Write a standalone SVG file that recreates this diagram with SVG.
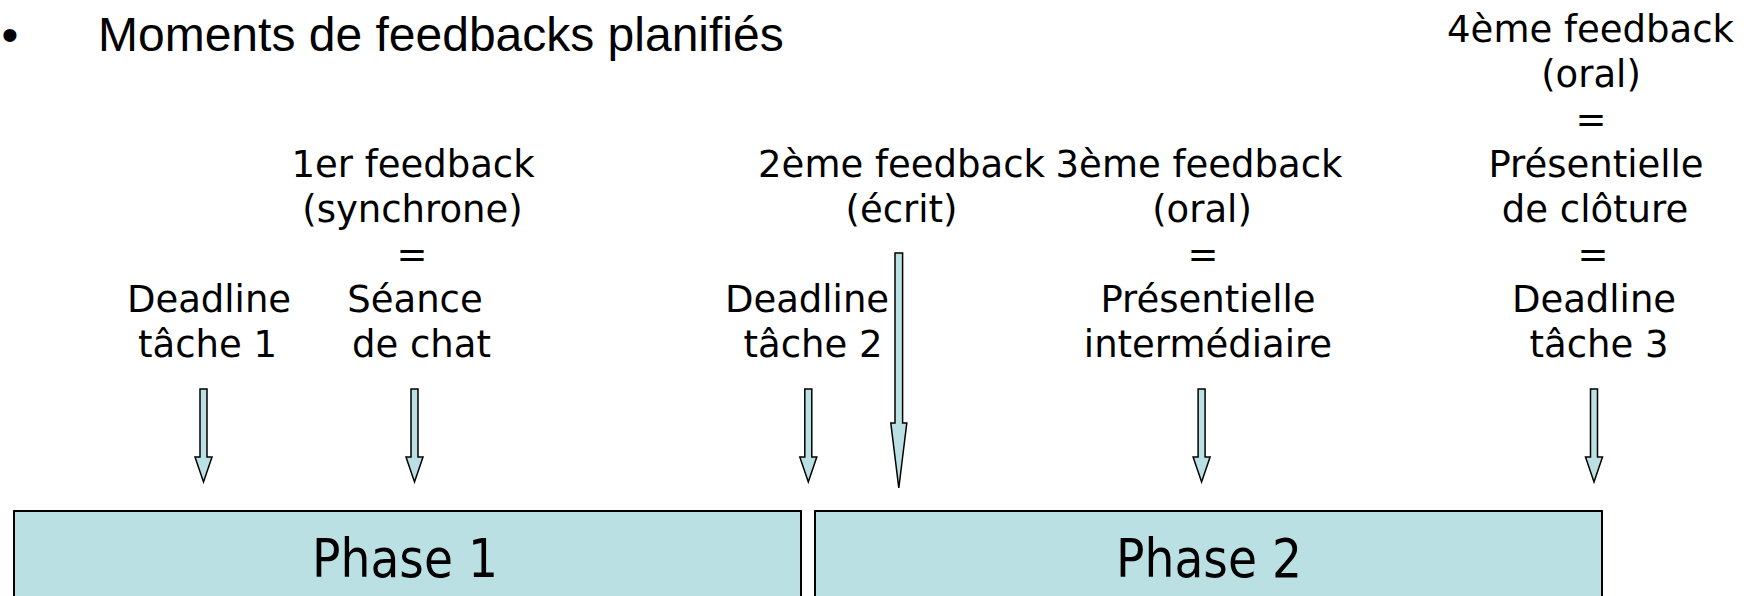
<svg xmlns="http://www.w3.org/2000/svg" xmlns:xlink="http://www.w3.org/1999/xlink" width="1751" height="596" viewBox="0 0 1751 596">
<style>
.t{font-family:"DejaVu Sans","Verdana",sans-serif;font-size:37px;fill:#000;text-anchor:middle}
.title{font-family:"Liberation Sans",Arial,sans-serif;font-size:48px;fill:#000}
.ph{font-family:"DejaVu Sans","Verdana",sans-serif;font-size:54px;fill:#000;text-anchor:middle}
.box{fill:#bbe0e3;stroke:#000;stroke-width:2}
.arr{fill:#bbe0e3;stroke:#000;stroke-width:1.5;stroke-linejoin:miter}
</style>
<defs>
<path id="sa" class="arr" d="M-3.5,389 H3.5 V457 H8.5 L0,482 L-8.5,457 H-3.5 Z"/>
</defs>
<rect width="1751" height="596" fill="#fff"/>
<g id="title">
<text class="title" x="10" y="50.5" text-anchor="middle">•</text>
<text class="title" x="98" y="50.5">Moments de feedbacks planifiés</text>
</g>
<g id="phase1">
<rect class="box" x="14" y="511" width="787" height="110"/>
<text class="ph" x="405" y="577" textLength="186" lengthAdjust="spacingAndGlyphs">Phase 1</text>
</g>
<g id="phase2">
<rect class="box" x="815" y="511" width="787" height="110"/>
<text class="ph" x="1209" y="577" textLength="186" lengthAdjust="spacingAndGlyphs">Phase 2</text>
</g>
<g id="deadline1">
<text class="t" x="209" y="311.5">Deadline</text>
<text class="t" x="207.5" y="356.5">tâche 1</text>
</g>
<g id="feedback1">
<text class="t" x="413" y="176.5">1er feedback</text>
<text class="t" x="412.5" y="221.5">(synchrone)</text>
<text class="t" x="412" y="266.5">=</text>
<text class="t" x="415" y="311.5">Séance</text>
<text class="t" x="421.5" y="356.5">de chat</text>
</g>
<g id="deadline2">
<text class="t" x="807" y="311.5">Deadline</text>
<text class="t" x="813" y="356.5">tâche 2</text>
</g>
<g id="feedback2">
<text class="t" x="901.5" y="176.5">2ème feedback</text>
<text class="t" x="901.5" y="221.5">(écrit)</text>
</g>
<g id="feedback3">
<text class="t" x="1199" y="176.5">3ème feedback</text>
<text class="t" x="1202" y="221.5">(oral)</text>
<text class="t" x="1203" y="266.5">=</text>
<text class="t" x="1208" y="311.5">Présentielle</text>
<text class="t" x="1208" y="356.5">intermédiaire</text>
</g>
<g id="feedback4">
<text class="t" x="1590.5" y="41.5">4ème feedback</text>
<text class="t" x="1591" y="86.5">(oral)</text>
<text class="t" x="1591" y="131.5">=</text>
<text class="t" x="1596" y="176.5">Présentielle</text>
<text class="t" x="1595" y="221.5">de clôture</text>
<text class="t" x="1593" y="266.5">=</text>
<text class="t" x="1594" y="311.5">Deadline</text>
<text class="t" x="1599" y="356.5">tâche 3</text>
</g>
<g id="connectors">
<use xlink:href="#sa" x="203.5"/>
<use xlink:href="#sa" x="414.5"/>
<use xlink:href="#sa" x="808.3"/>
<use xlink:href="#sa" x="1201.6"/>
<use xlink:href="#sa" x="1594"/>
<path class="arr" d="M895,253 H902.6 V423 H906.8 L898.8,488 L890.8,423 H895 Z"/>
</g>
</svg>
